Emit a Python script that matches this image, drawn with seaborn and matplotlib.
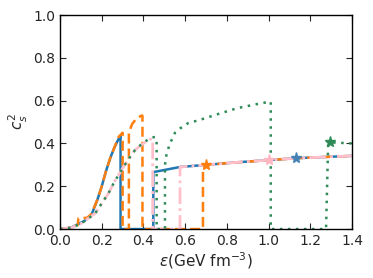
import numpy as np
import pandas as pd
import matplotlib
matplotlib.use("Agg")
import matplotlib.pyplot as plt
import seaborn as sns

# Sound speed squared vs energy density
# blue (solid)
blue_e = [0.0, 0.03, 0.06, 0.09, 0.12, 0.15, 0.18, 0.20, 0.22, 0.24, 0.26, 0.28, 0.29,
          0.29, 0.447, 0.447, 0.50, 0.575, 0.70, 0.85, 1.0, 1.13, 1.25, 1.4]
blue_cs2 = [0.0, 0.003, 0.01, 0.025, 0.04, 0.065, 0.14, 0.20, 0.27, 0.33, 0.38, 0.42, 0.435,
            0.0, 0.0, 0.266, 0.276, 0.29, 0.30, 0.312, 0.322, 0.331, 0.336, 0.342]

# orange (dashed)
orange_e = [0.0, 0.03, 0.06, 0.085, 0.088, 0.13, 0.15, 0.18, 0.20, 0.22, 0.24, 0.26, 0.28, 0.30,
            0.30, 0.33, 0.33, 0.345, 0.365, 0.39, 0.395, 0.395, 0.685, 0.685, 0.70,
            0.85, 1.0, 1.13, 1.25, 1.4]
orange_cs2 = [0.0, 0.003, 0.01, 0.02, 0.05, 0.053, 0.07, 0.14, 0.20, 0.27, 0.33, 0.38, 0.43, 0.45,
              0.0, 0.0, 0.45, 0.49, 0.515, 0.53, 0.53, 0.0, 0.0, 0.29, 0.30,
              0.312, 0.322, 0.331, 0.336, 0.342]

# green (dotted)
green_e = [0.0, 0.05, 0.10, 0.168, 0.20, 0.232, 0.26, 0.295, 0.33, 0.36, 0.40, 0.44, 0.455, 0.463,
           0.463, 0.503, 0.503, 0.511, 0.527, 0.551, 0.575, 0.614, 0.67, 0.75, 0.85, 0.95, 1.005,
           1.01, 1.01, 1.275, 1.285, 1.30, 1.4]
green_cs2 = [0.0, 0.005, 0.025, 0.073, 0.12, 0.167, 0.22, 0.276, 0.33, 0.37, 0.405, 0.428, 0.43, 0.42,
             0.0, 0.0, 0.30, 0.354, 0.40, 0.45, 0.47, 0.495, 0.51, 0.535, 0.565, 0.585, 0.595,
             0.595, 0.0, 0.0, 0.39, 0.405, 0.40]

# pink (dash-dot)
pink_e = [0.0, 0.05, 0.10, 0.168, 0.20, 0.232, 0.26, 0.295, 0.33, 0.36, 0.40, 0.431, 0.444,
          0.444, 0.575, 0.575, 0.70, 0.85, 1.0, 1.13, 1.25, 1.4]
pink_cs2 = [0.0, 0.005, 0.025, 0.073, 0.12, 0.167, 0.22, 0.276, 0.33, 0.37, 0.40, 0.42, 0.42,
            0.0, 0.0, 0.29, 0.30, 0.312, 0.322, 0.331, 0.336, 0.342]

# star markers
star_e = [0.70, 1.0, 1.13, 1.295]
star_cs2 = [0.30, 0.324, 0.331, 0.405]
star_colors = ["#ff7f0e", "#ffb6c1", "#4682b4", "#2e8b57"]

sns.set_style("ticks")
fig, ax = plt.subplots(figsize=(3.73, 2.78), dpi=100)
fig.subplots_adjust(left=0.161, right=0.944, bottom=0.176, top=0.946)

sns.lineplot(x=blue_e, y=blue_cs2, sort=False, estimator=None, color="#1f77b4",
             linewidth=1.8, ax=ax, zorder=2)
sns.lineplot(x=orange_e, y=orange_cs2, sort=False, estimator=None, color="#ff7f0e",
             linewidth=1.8, linestyle=(0, (4, 2)), ax=ax, zorder=2.1)
sns.lineplot(x=pink_e, y=pink_cs2, sort=False, estimator=None, color="pink",
             linewidth=2.0, linestyle=(0, (6, 1.5, 1, 1.5)), ax=ax, zorder=2.2)
sns.lineplot(x=green_e, y=green_cs2, sort=False, estimator=None, color="#2e8b57",
             linewidth=1.8, linestyle=(0, (1, 2.2)), ax=ax, zorder=2.3)

for e, c, col in zip(star_e, star_cs2, star_colors):
    ax.plot(e, c, marker="*", markersize=8, color=col, linestyle="none", zorder=5)

ax.set_xlim(0, 1.4)
ax.set_ylim(0, 1.0)
ax.set_xticks(np.arange(0, 1.41, 0.2))
ax.set_yticks(np.arange(0, 1.01, 0.2))
ax.set_xlabel(r"$\varepsilon$(GeV fm$^{-3}$)", fontsize=11, labelpad=2)
ax.set_ylabel(r"$c_s^2$", fontsize=11, labelpad=2)
ax.tick_params(direction="in", top=True, right=True, length=4, labelsize=10)
for s in ax.spines.values():
    s.set_linewidth(1.0)
    s.set_color("black")

fig.savefig("out.png", dpi=100)
